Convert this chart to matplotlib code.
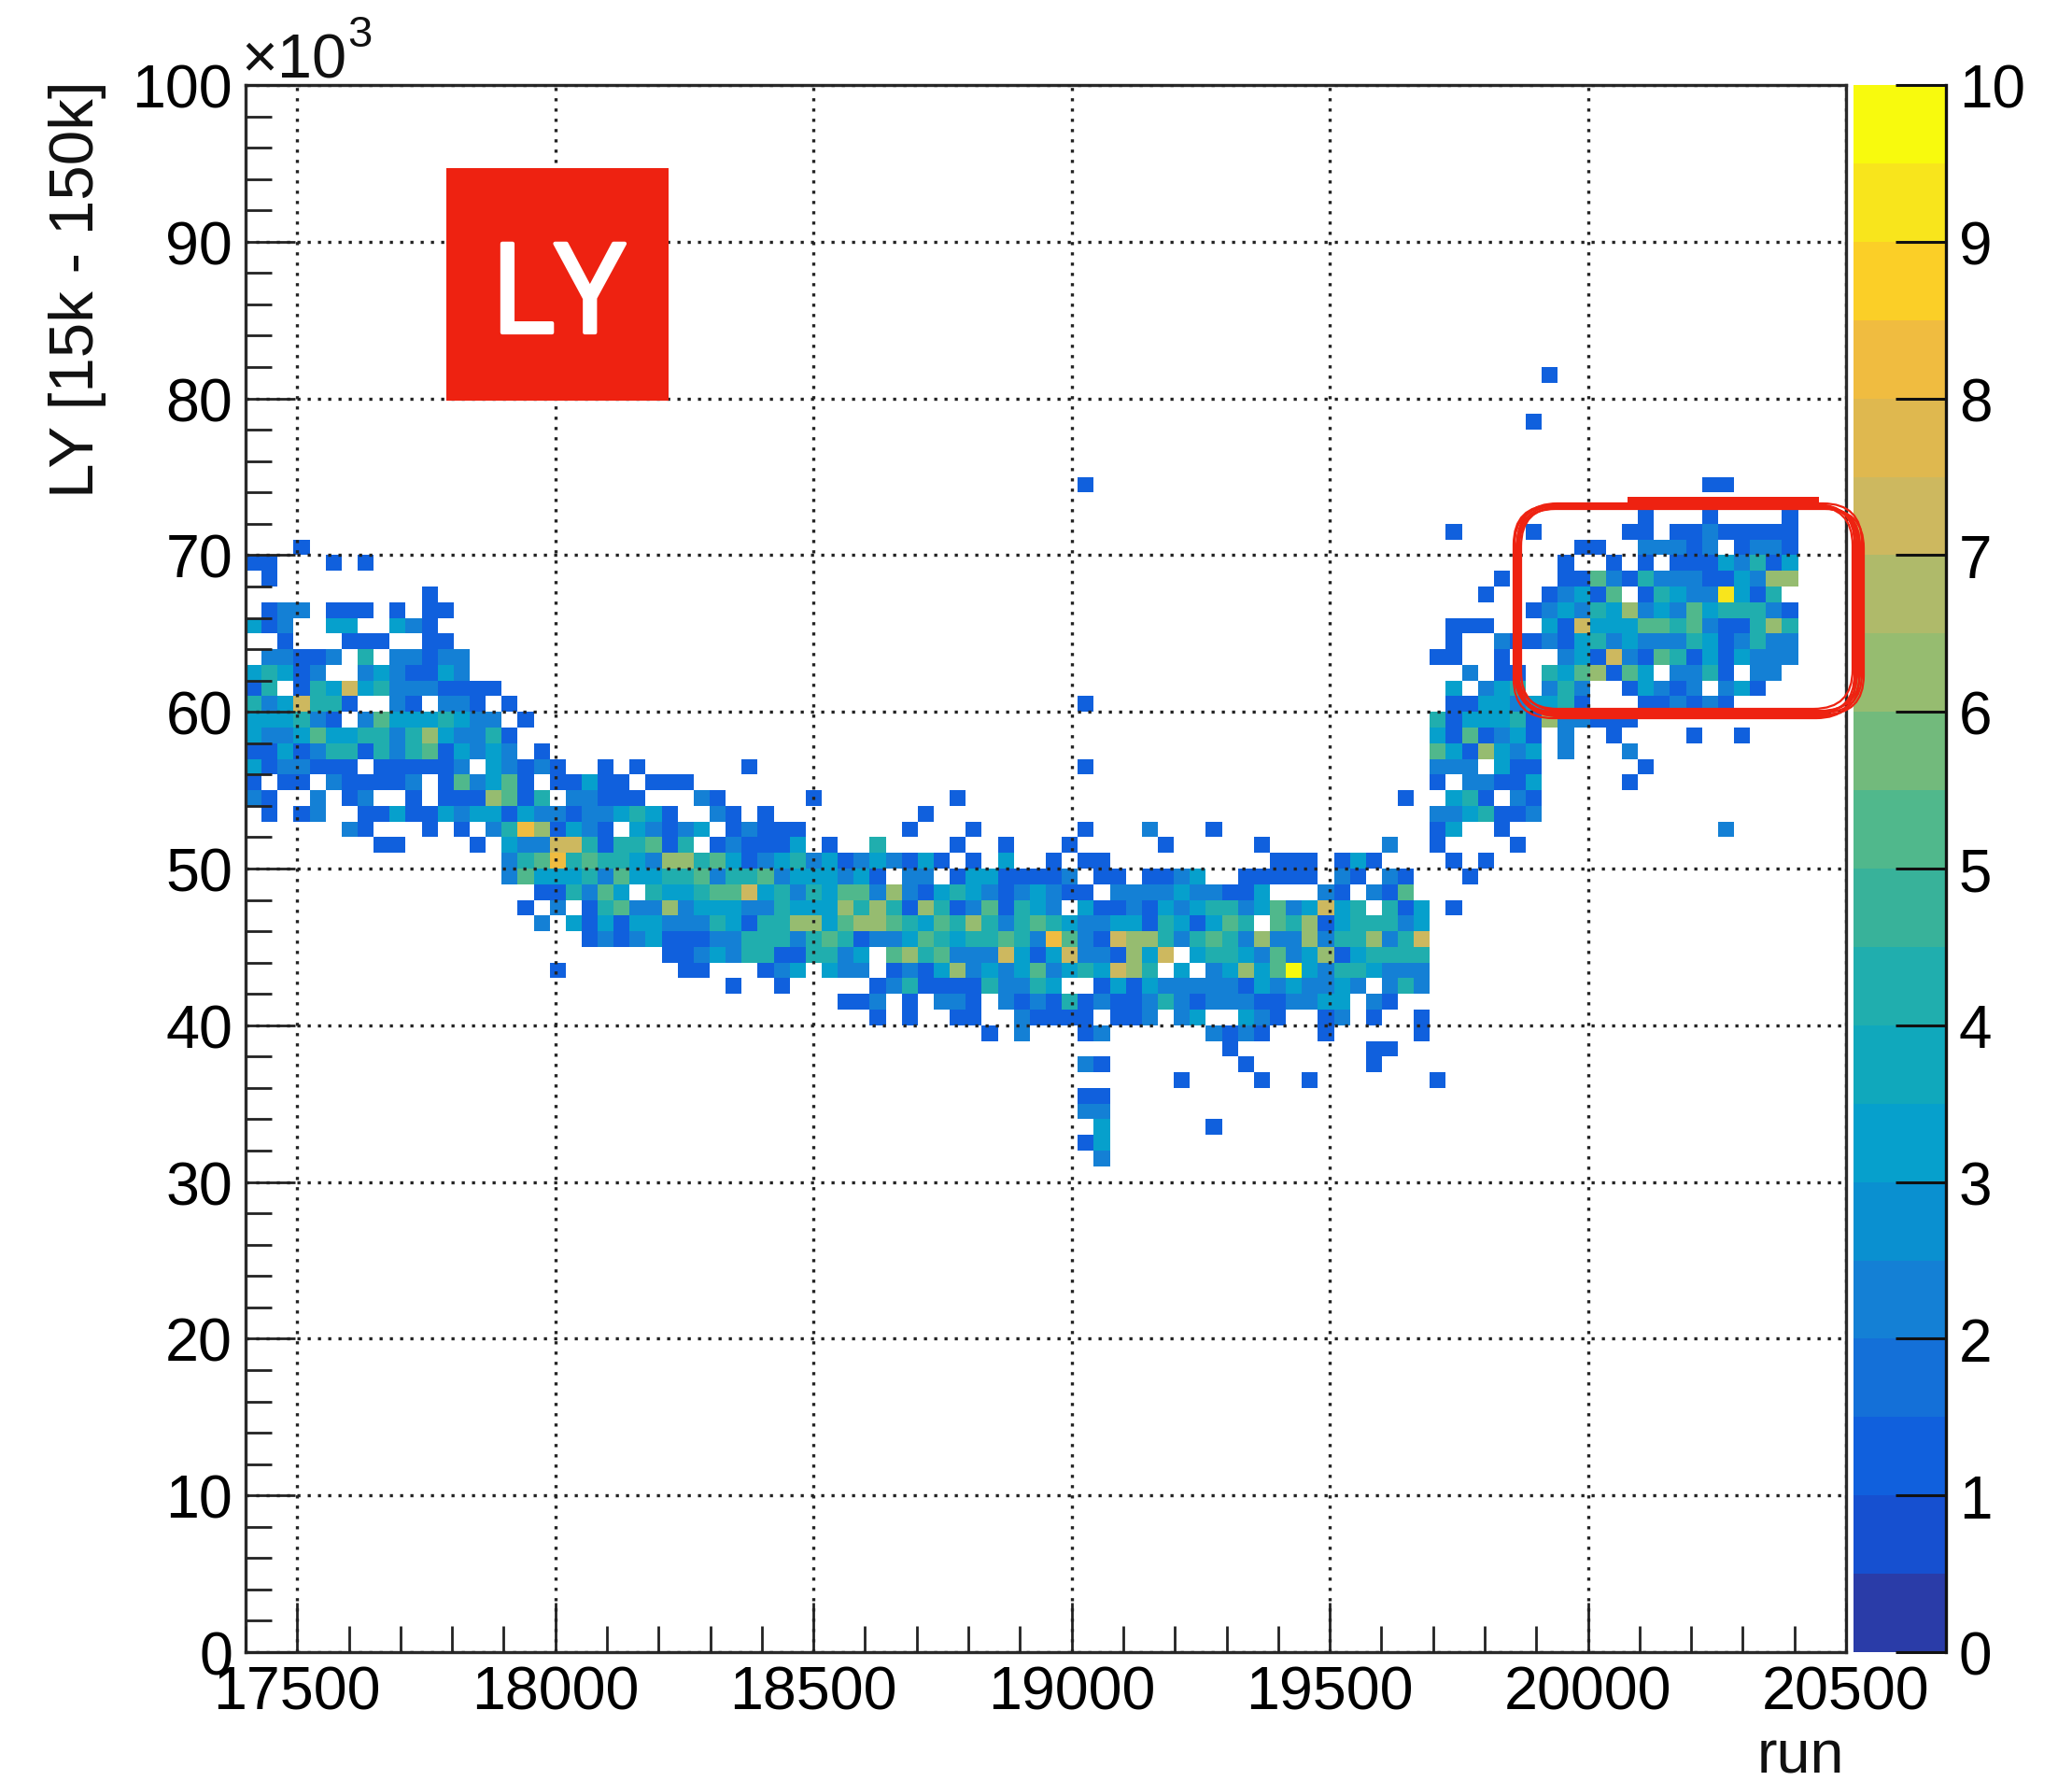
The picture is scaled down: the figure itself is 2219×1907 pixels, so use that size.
import numpy as np
import matplotlib
matplotlib.use('Agg')
import matplotlib.pyplot as plt
import matplotlib.patheffects as pe
from matplotlib.colors import ListedColormap, BoundaryNorm
from matplotlib.patches import FancyBboxPatch, Rectangle
from matplotlib.ticker import MultipleLocator
from matplotlib.transforms import IdentityTransform

plt.rcParams['font.family'] = ['Liberation Sans', 'DejaVu Sans']

W, H = 2219, 1908

# histogram binning
run_edges = np.linspace(17400, 20500, 101)
ly_edges = np.linspace(0, 100000, 101)

# y bin number of each entry in row_cells
ly_bins = list(range(81, 30, -1))
# "firstcol:counts" per y bin, '.' is an empty bin, 'a' is 10
row_cells = [
    "81:1", "", "", "80:1", "", "", "",
    "52:1 91:11", "",
    "87:1 91:1 96:1",
    "75:1 80:1 86:11.11211111",
    "3:1 83:11 87:22212.1221",
    "0:11...1.1 82:1 85:1 87:1 89:11132413",
    "1:1 78:1 82:115214222113266",
    "11:1 77:1 81:12315.143229314",
    "1:122.111.1.11 80:12324362325344421",
    "0:312..33..321 75:111 81:3173335545211464",
    "2:1 6:111 11:11 75:1 78:21 80:12134232224312422",
    "1:22112.4.22122 74:11 78:1 82:231721541313222",
    "0:34312..2321132 76:2 78:11 81:4356153.2241.22",
    "0:14.1437342221111 75:3 77:234 81:242..13212.231",
    "0:4237441..21.221.1 52:1 75:11 77:3323341 87:112121",
    "0:333421.253334322.1 74:4133341622111",
    "0:32235334424632241 74:3151231 82:2 85:1 90:1 93:1",
    "0:11312441424513232.1 74:5316323 82:2 86:2",
    "0:3122111.111112.32121 22:1 24:1 31:1 52:1 74:222.311 87:1",
    "0:1.11.211112.152351.11311.111 74:1.22113 86:1",
    "0:21..2.12..1.1116514.22111...21 35:1 44:1 72:1 75:341.21",
    "1:1.12..11311323313221223431..21.1 42:1 74:2234112",
    "6:21...1.1.24861321.32123.12111 41:1 45:1 52:1 56:2 60:1 74:13 78:1 92:2",
    "8:11 14:1.322774144514.121113.1 39:4 44:1 47:1 51:1 57:1 63:1 71:2 74:1 79:1",
    "16:2458454432664531234231232131.1.3..1.11 64:111.131 75:1.1",
    "16:253334253344524452333231.22.13311112.11.1123..11111.21.21 76:1",
    "18:114253.4334557342435526213432123211.2222322113...21.215",
    "17:1.2.145226233322433364641641251432.311213234423523734.413.1",
    "18:2.3131332224314466356654354642454322331431354.5461344423",
    "21:12123111224442454122354344542852176642454262262446247",
    "26:1123244114423.564522273137221637.344325236134444",
    "19:1 27:11...123.322.12136232352343764.3.23635a32443222",
    "30:1 33:1 39:124111142243..13132222213232232.242",
    "37:112.1.221.2121412112421222112233.21",
    "39:1.1..11..21111.112.23..321..12.1..1",
    "46:1 48:2 52:12 60:2121 67:1 73:1",
    "61:1 70:11",
    "52:21 62:1 70:1",
    "58:1 63:1 66:1 74:1",
    "52:11",
    "52:22",
    "53:3 60:1",
    "52:13",
    "53:2",
]

# palette levels, bottom to top of the colour bar
level_colors = ['#2a3ca8', '#1650d0', '#1060dd', '#1470d8', '#1480d5',
                '#0a90d0', '#06a0cc', '#10a8bc', '#20aeae', '#38b29a',
                '#50b88c', '#72ba7c', '#96bc70', '#afba6a', '#cdb85f',
                '#dfb84f', '#f0bc40', '#fbcf27', '#f8e51c', '#f8fa0d']
level_edges = np.arange(0, 10.5, 0.5)

run_ticks = [17500, 18000, 18500, 19000, 19500, 20000, 20500]
ly_ticks = list(range(0, 100001, 10000))
ly_tick_labels = [str(v // 1000) for v in ly_ticks]
z_ticks = list(range(0, 11))

hist = np.full((100, 100), np.nan)
for row, cells in zip(ly_bins, row_cells):
    for token in cells.split():
        col, digits = token.split(':')
        for k, c in enumerate(digits):
            if c != '.':
                hist[row, int(col) + k] = 10 if c == 'a' else int(c)


def fx(x):
    return x / W


def fy(y):
    return 1 - y / H


fig = plt.figure(figsize=(W / 100, H / 100), dpi=100)
ax = fig.add_axes([fx(263), fy(1770), (1977 - 263) / W, (1770 - 92) / H])
cax = fig.add_axes([fx(1985), fy(1770), (2084 - 1985) / W, (1770 - 92) / H])

cmap = ListedColormap(level_colors)
norm = BoundaryNorm(level_edges, 20, clip=True)
mesh = ax.pcolormesh(run_edges, ly_edges, hist, cmap=cmap, norm=norm, zorder=1)

ax.set_xlim(17400, 20500)
ax.set_ylim(0, 100000)
ax.set_xticks(run_ticks)
ax.set_yticks(ly_ticks)
ax.set_yticklabels(ly_tick_labels)
ax.xaxis.set_minor_locator(MultipleLocator(100))
ax.yaxis.set_minor_locator(MultipleLocator(2000))
ax.tick_params(which='major', direction='in', length=38, width=2.0, color='#222222',
               labelsize=46.5, top=False, right=False)
ax.tick_params(which='minor', direction='in', length=20, width=2.0, color='#222222',
               top=False, right=False)
ax.tick_params(axis='x', which='major', pad=10)
ax.tick_params(axis='y', which='major', pad=10)
ax.set_axisbelow(False)
ax.grid(which='major', color='#222222', linewidth=2.4, linestyle=(0, (1, 2.3)))
for s in ax.spines.values():
    s.set_linewidth(2.4)
    s.set_color('#2a2a2a')

cbar = fig.colorbar(mesh, cax=cax, ticks=z_ticks)
cbar.outline.set_visible(False)
cbar.dividers.set_visible(False)
cbar.ax.minorticks_off()
cax.set_yticklabels([str(v) for v in z_ticks])
cax.tick_params(which='major', direction='in', length=39, width=2.2, color='#111111',
                labelsize=46, pad=10, right=True, left=False)
cax.spines['right'].set_visible(True)
cax.spines['right'].set_linewidth(2.4)
cax.spines['right'].set_color('#111111')

fig.text(fx(1975), fy(1899), 'run', fontsize=46.5, ha='right', va='baseline', color='#111111')
fig.text(fx(114), fy(86), 'LY [15k - 150k]', fontsize=48.5, rotation=90, ha='right', va='top',
         color='#111111')
fig.text(fx(258), fy(83), '\u00d710', fontsize=48, ha='left', va='baseline', color='#111111')
fig.text(fx(372), fy(50), '3', fontsize=34, ha='left', va='baseline', color='#111111')

# red tag
fig.add_artist(Rectangle((fx(478), fy(430)), (716 - 478) / W, (430 - 181) / H, facecolor='#ee2211',
                         edgecolor='none', transform=fig.transFigure, zorder=5))
fig.text(fx(597), fy(357), 'LY', fontsize=96, family='Open Sans', color='white', ha='center',
         va='baseline', zorder=6,
         path_effects=[pe.withStroke(linewidth=3, foreground='white')])

# hand drawn loop around the high LY cluster
loops = [(1625, 541, 1986, 765), (1622, 543, 1989, 763), (1627, 545, 1991, 768),
         (1626, 540, 1994, 764), (1621, 542, 1987, 770), (1629, 544, 1992, 762),
         (1624, 546, 1996, 766), (1626, 543, 1984, 760)]
for x0, y0, x1, y1 in loops:
    fig.add_artist(FancyBboxPatch((x0, H - y1), x1 - x0, y1 - y0,
                                  boxstyle='round,pad=0,rounding_size=42', fill=False,
                                  edgecolor='#ee2211', linewidth=1.6,
                                  transform=IdentityTransform(), zorder=7))
# heavier part of the stroke along the top
fig.add_artist(Rectangle((1743, H - 546), 205, 13, facecolor='#ee2211', edgecolor='none',
                         transform=IdentityTransform(), zorder=7))

fig.savefig('out.png', dpi=100)
